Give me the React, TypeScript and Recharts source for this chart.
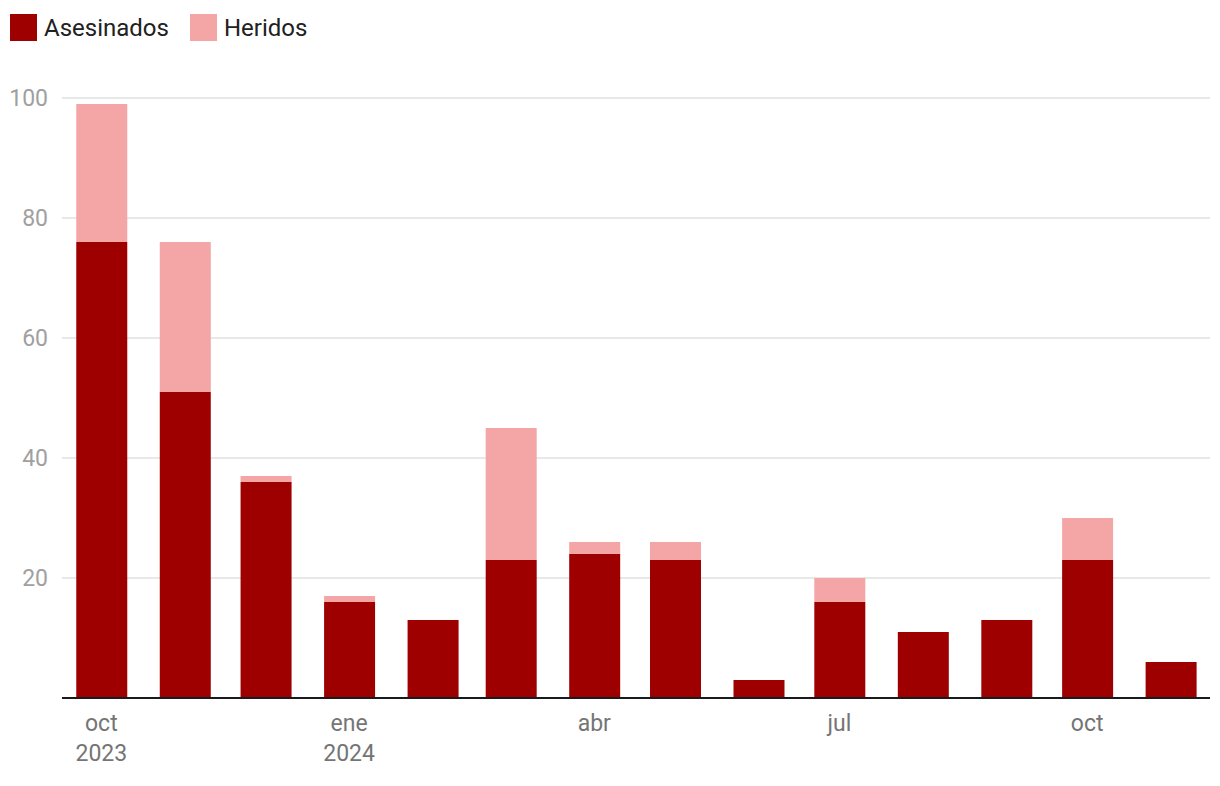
import React from "react";
import { BarChart, Bar, XAxis, YAxis, CartesianGrid } from "recharts";

const months = [
  "2023-10", "2023-11", "2023-12", "2024-01", "2024-02", "2024-03", "2024-04",
  "2024-05", "2024-06", "2024-07", "2024-08", "2024-09", "2024-10", "2024-11",
];
const asesinados = [76, 51, 36, 16, 13, 23, 24, 23, 3, 16, 11, 13, 23, 6];
const heridos = [23, 25, 1, 1, 0, 22, 2, 3, 0, 4, 0, 0, 7, 0];

const tickMonths = ["2023-10", "2024-01", "2024-04", "2024-07", "2024-10"];
const tickLabels = [["oct", "2023"], ["ene", "2024"], ["abr"], ["jul"], ["oct"]];
const yTicks = [20, 40, 60, 80, 100];

const DARK = "#9e0000";
const PINK = "#f4a5a5";
const DAY = 86400000;

const toTime = (m: string) => {
  const [y, mo] = m.split("-").map(Number);
  return Date.UTC(y, mo - 1, 1);
};

const data = months.map((m, i) => ({
  t: toTime(m),
  asesinados: asesinados[i],
  heridos: heridos[i],
}));

const xTicks = tickMonths.map(toTime);
const PAD_DAYS = 14.6;

const XTick = (props: any) => {
  const { x, y, payload } = props;
  const idx = xTicks.indexOf(payload.value);
  const lines = idx >= 0 ? tickLabels[idx] : [];
  return (
    <text x={x} y={y} textAnchor="middle" fill="#757575" fontSize={23} fontFamily="Roboto">
      {lines.map((l, i) => (
        <tspan key={i} x={x} dy={i === 0 ? 25 : 30}>
          {l}
        </tspan>
      ))}
    </text>
  );
};

const legendItems = [
  { label: "Asesinados", color: DARK },
  { label: "Heridos", color: PINK },
];

export default function App() {
  return (
    <div style={{ position: "absolute", left: 0, top: 0, width: 1220, height: 786, background: "#fff" }}>
      <div
        style={{
          position: "absolute",
          left: 10,
          top: 14,
          display: "flex",
          alignItems: "center",
          fontFamily: "Roboto",
          fontSize: 24,
          color: "#212121",
          height: 27,
        }}
      >
        {legendItems.map((it, i) => (
          <div key={i} style={{ display: "flex", alignItems: "center", marginRight: 21 }}>
            <div style={{ width: 27, height: 27, background: it.color, marginRight: 7 }} />
            <span>{it.label}</span>
          </div>
        ))}
      </div>
      <BarChart
        width={1220}
        height={786}
        data={data}
        margin={{ top: 98, right: 10, bottom: 8, left: 0 }}
      >
        <CartesianGrid vertical={false} stroke="#e0e0e0" strokeWidth={1.5} />
        <XAxis
          dataKey="t"
          type="number"
          scale="time"
          domain={[(min: number) => min - PAD_DAYS * DAY, (max: number) => max + PAD_DAYS * DAY]}
          ticks={xTicks}
          tick={<XTick />}
          tickLine={false}
          axisLine={{ stroke: "#1a1a1a", strokeWidth: 2 }}
          height={80}
          interval={0}
        />
        <YAxis
          domain={[0, 100]}
          ticks={yTicks}
          axisLine={false}
          tickLine={false}
          tickSize={0}
          tickMargin={14}
          width={62}
          tick={{ fill: "#a0a0a0", fontSize: 23, fontFamily: "Roboto" }}
        />
        <Bar dataKey="asesinados" stackId="a" fill={DARK} barSize={51} isAnimationActive={false} />
        <Bar dataKey="heridos" stackId="a" fill={PINK} barSize={51} isAnimationActive={false} />
      </BarChart>
    </div>
  );
}
